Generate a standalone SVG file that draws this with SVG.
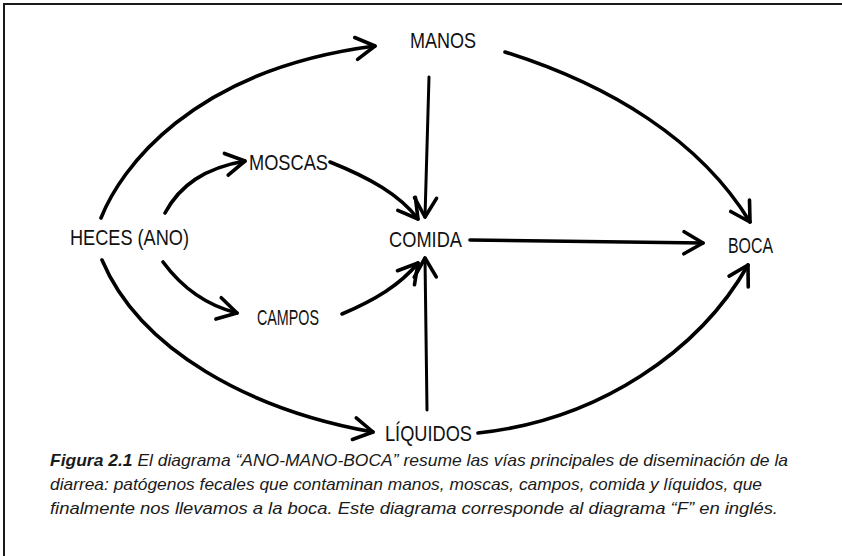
<svg xmlns="http://www.w3.org/2000/svg" width="842" height="556" viewBox="0 0 842 556">
<style>
.frame{fill:none;stroke:#1a1a1a;stroke-width:2}
.lbl{font-family:"Liberation Sans","Arial",sans-serif;font-size:22px;fill:#111}
.cap{font-family:"Liberation Sans","Arial",sans-serif;font-size:17px;font-style:italic;fill:#1a1a1a}
.capb{font-weight:bold}
.edge{fill:none;stroke:#000;stroke-width:3.6;stroke-linecap:round;stroke-linejoin:round}
.edge.thin{stroke-width:3}
</style>
<defs>
<marker id="ah" markerUnits="userSpaceOnUse" viewBox="-24 -14 28 28" refX="0" refY="0" markerWidth="28" markerHeight="28" orient="auto">
<path d="M-19,-11 L0,0 L-19,11" fill="none" stroke="#000" stroke-width="3.6" stroke-linecap="round" stroke-linejoin="round"/>
</marker>
</defs>
<rect width="842" height="556" fill="#fff"/>
<path class="frame" d="M4,556 V4 H842"/>
<g id="connectors">
<path class="edge" d="M101,218 C120,170 190,70 375,46" marker-end="url(#ah)"/>
<path class="edge" d="M505,52 C610,85 700,140 750,222" marker-end="url(#ah)"/>
<path class="edge thin" d="M429,77 L425,217" marker-end="url(#ah)"/>
<path class="edge" d="M165,213 C180,185 205,168 245,161" marker-end="url(#ah)"/>
<path class="edge" d="M330,162 C370,178 400,195 418,219" marker-end="url(#ah)"/>
<path class="edge" d="M163,262 C180,285 205,305 237,313" marker-end="url(#ah)"/>
<path class="edge" d="M342,314 C375,300 400,285 418,263" marker-end="url(#ah)"/>
<path class="edge" d="M470,240 L703,243" marker-end="url(#ah)"/>
<path class="edge thin" d="M427,410 L425,258" marker-end="url(#ah)"/>
<path class="edge" d="M102,260 C140,350 250,410 373,432" marker-end="url(#ah)"/>
<path class="edge" d="M478,433 C600,420 700,350 748,265" marker-end="url(#ah)"/>
</g>
<g id="manos"><text class="lbl" x="410" y="48" textLength="66" lengthAdjust="spacingAndGlyphs">MANOS</text></g>
<g id="moscas"><text class="lbl" x="249" y="170" textLength="79" lengthAdjust="spacingAndGlyphs">MOSCAS</text></g>
<g id="heces"><text class="lbl" x="70" y="245" textLength="119" lengthAdjust="spacingAndGlyphs">HECES (ANO)</text></g>
<g id="comida"><text class="lbl" x="389" y="247" textLength="73" lengthAdjust="spacingAndGlyphs">COMIDA</text></g>
<g id="campos"><text class="lbl" x="257" y="325" textLength="62" lengthAdjust="spacingAndGlyphs">CAMPOS</text></g>
<g id="boca"><text class="lbl" x="728" y="253" textLength="45" lengthAdjust="spacingAndGlyphs">BOCA</text></g>
<g id="liquidos"><text class="lbl" x="385" y="441" textLength="87" lengthAdjust="spacingAndGlyphs">LÍQUIDOS</text></g>
<g id="caption">
<text class="cap" x="50" y="466" textLength="738" lengthAdjust="spacingAndGlyphs"><tspan class="capb">Figura 2.1</tspan> El diagrama “ANO-MANO-BOCA” resume las vías principales de diseminación de la</text>
<text class="cap" x="50" y="490" textLength="712" lengthAdjust="spacingAndGlyphs">diarrea: patógenos fecales que contaminan manos, moscas, campos, comida y líquidos, que</text>
<text class="cap" x="50" y="514" textLength="728" lengthAdjust="spacingAndGlyphs">finalmente nos llevamos a la boca. Este diagrama corresponde al diagrama “F” en inglés.</text>
</g>
</svg>
